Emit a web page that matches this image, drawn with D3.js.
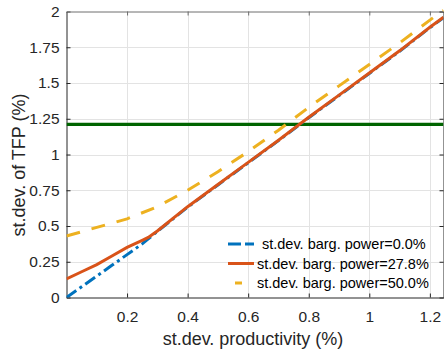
<!DOCTYPE html>
<html>
<head>
<meta charset="utf-8">
<script src="https://cdn.jsdelivr.net/npm/d3@7"></script>
<style>
  html, body { margin: 0; padding: 0; background: #fff; }
  svg { display: block; font-family: "Liberation Sans", Arial, Helvetica, sans-serif; }
</style>
</head>
<body>
<svg id="chart" width="444" height="350"></svg>
<script>
// ---- data ----
const xVals      = [0, 0.05, 0.1, 0.15, 0.2, 0.25, 0.27, 0.3, 0.4, 0.5, 0.6, 0.7, 0.8, 0.9, 1.0, 1.1, 1.2, 1.245];
const sdPower0   = [0, 0.075, 0.15, 0.225, 0.30, 0.375, 0.41, 0.462, 0.632, 0.787, 0.942, 1.097, 1.257, 1.412, 1.567, 1.722, 1.887, 1.957];
const sdPower278 = [0.13, 0.18, 0.23, 0.29, 0.35, 0.40, 0.42, 0.465, 0.635, 0.79, 0.945, 1.10, 1.26, 1.415, 1.57, 1.725, 1.89, 1.96];
const yX         = [0, 0.1, 0.2, 0.3, 0.4, 0.5, 0.6, 0.7, 0.8, 0.9, 1.0, 1.1, 1.2, 1.245];
const sdPower50  = [0.43, 0.49, 0.55, 0.635, 0.75, 0.88, 1.02, 1.17, 1.33, 1.48, 1.63, 1.78, 1.94, 2.01];
const tfpLevel   = 1.21;
const seriesNames = ["st.dev. barg. power=0.0%", "st.dev. barg. power=27.8%", "st.dev. barg. power=50.0%"];
const xTicks = [0.2, 0.4, 0.6, 0.8, 1.0, 1.2];
const xTickLabels = ["0.2", "0.4", "0.6", "0.8", "1", "1.2"];
const yTicks = [0, 0.25, 0.5, 0.75, 1, 1.25, 1.5, 1.75, 2];
const yTickLabels = ["0", "0.25", "0.5", "0.75", "1", "1.25", "1.5", "1.75", "2"];
const xLabel = "st.dev. productivity (%)";
const yLabel = "st.dev. of TFP (%)";

// ---- layout ----
const L = 66.5, R = 443.5, T = 11.5, B = 297.5;
const svg = d3.select("#chart");
const x = d3.scaleLinear().domain([0, 1.245]).range([L, R]);
const y = d3.scaleLinear().domain([0, 2]).range([B, T]);
const axisColor = "#262626";
const colors = ["#0072BD", "#D95319", "#EDB120"];

// grid
const grid = svg.append("g");
grid.selectAll("line.gx").data(xTicks).enter().append("line")
  .attr("x1", d => Math.round(x(d)) + 0.5).attr("x2", d => Math.round(x(d)) + 0.5)
  .attr("y1", T).attr("y2", B).attr("stroke", "#e3e3e3").attr("stroke-width", 1);
grid.selectAll("line.gy").data(yTicks.slice(1, -1)).enter().append("line")
  .attr("y1", d => Math.round(y(d)) + 0.5).attr("y2", d => Math.round(y(d)) + 0.5)
  .attr("x1", L).attr("x2", R).attr("stroke", "#e3e3e3").attr("stroke-width", 1);

// axes
const fs = "15.5px";
const gx = svg.append("g").attr("transform", `translate(0,${B})`)
  .call(d3.axisBottom(x).tickValues(xTicks).tickFormat((d, i) => xTickLabels[i]).tickSizeInner(-4).tickSizeOuter(0).tickPadding(13));
const gy = svg.append("g").attr("transform", `translate(${L},0)`)
  .call(d3.axisLeft(y).tickValues(yTicks).tickFormat((d, i) => yTickLabels[i]).tickSizeInner(-4).tickSizeOuter(0).tickPadding(7));
const gxTop = svg.append("g").attr("transform", `translate(0,${T})`)
  .call(d3.axisTop(x).tickValues(xTicks).tickFormat("").tickSizeInner(-4).tickSizeOuter(0));
const gyRight = svg.append("g").attr("transform", `translate(${R},0)`)
  .call(d3.axisRight(y).tickValues(yTicks).tickFormat("").tickSizeInner(-4).tickSizeOuter(0));
[gx, gy, gxTop, gyRight].forEach(g => {
  g.selectAll("path").attr("stroke", axisColor);
  g.selectAll("line").attr("stroke", axisColor);
  g.selectAll("text").attr("fill", axisColor).style("font-size", fs).style("font-family", "'Liberation Sans', Arial, sans-serif");
});
gxTop.selectAll("path, line").attr("stroke", "#6e6e6e");

// labels
svg.append("text").attr("x", 253).attr("y", 345).attr("text-anchor", "middle")
  .attr("fill", axisColor).style("font-size", "18px").text(xLabel);
svg.append("text").attr("transform", `translate(25,165) rotate(-90)`).attr("text-anchor", "middle")
  .attr("fill", axisColor).style("font-size", "18px").text(yLabel);

// clip
svg.append("clipPath").attr("id", "clip").append("rect")
  .attr("x", L).attr("y", T - 2).attr("width", R - L).attr("height", B - T + 2);
const plot = svg.append("g").attr("clip-path", "url(#clip)");

// green reference line
plot.append("line").attr("x1", L).attr("x2", R).attr("y1", y(tfpLevel)).attr("y2", y(tfpLevel))
  .attr("stroke", "#006400").attr("stroke-width", 3.2);

const line = d3.line().x(d => x(d[0])).y(d => y(d[1])).curve(d3.curveLinear);
const s0 = xVals.map((v, i) => [v, sdPower0[i]]);
const s1 = xVals.map((v, i) => [v, sdPower278[i]]);
const s2 = yX.map((v, i) => [v, sdPower50[i]]);

plot.append("path").attr("d", line(s0)).attr("fill", "none").attr("stroke", colors[0])
  .attr("stroke-width", 3).attr("stroke-dasharray", "12,4,3,4");
plot.append("path").attr("d", line(s1)).attr("fill", "none").attr("stroke", colors[1])
  .attr("stroke-width", 3);
plot.append("path").attr("d", line(s2)).attr("fill", "none").attr("stroke", colors[2])
  .attr("stroke-width", 3).attr("stroke-dasharray", "14,12");

// legend
const legY = [244, 263.5, 283];
const legTextX = [262, 257, 257];
const legDash = ["13,4,9,20", null, "0,7,7,20"];
const leg = svg.append("g");
seriesNames.forEach((name, i) => {
  const ln = leg.append("line").attr("x1", 228).attr("x2", 254).attr("y1", legY[i]).attr("y2", legY[i])
    .attr("stroke", colors[i]).attr("stroke-width", 3);
  if (legDash[i]) ln.attr("stroke-dasharray", legDash[i]);
  leg.append("text").attr("x", legTextX[i]).attr("y", legY[i] + 5).attr("fill", "#000")
    .style("font-size", "14.5px").text(name);
});
</script>
</body>
</html>
